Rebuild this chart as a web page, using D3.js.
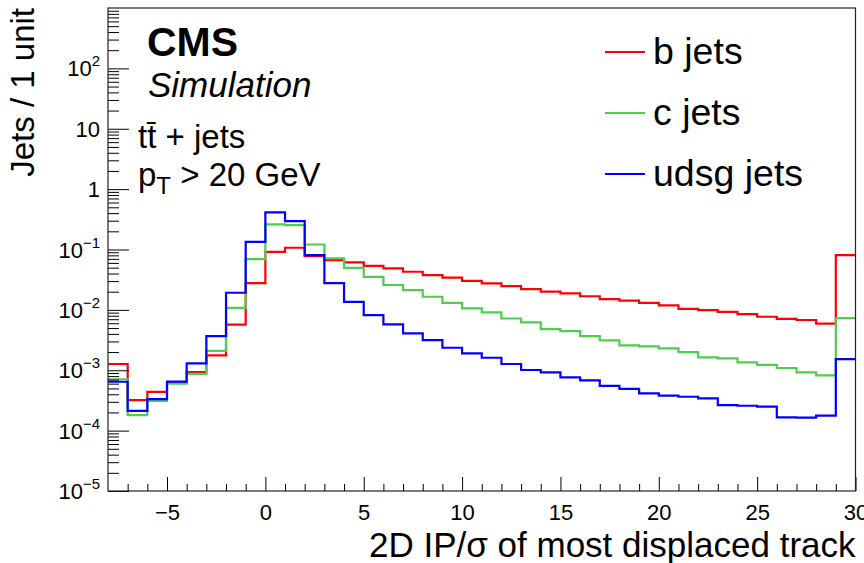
<!DOCTYPE html>
<html>
<head>
<meta charset="utf-8">
<script src="https://cdn.jsdelivr.net/npm/d3@7"></script>
<style>
  body { margin: 0; background: #fff; }
  svg { display: block; }
  text { font-family: "Liberation Sans", Arial, Helvetica, sans-serif; fill: #000; }
</style>
</head>
<body>
<div id="chart"></div>
<script>
let width = 864;
let height = 563;
let margin = ({top: 8, right: 8.5, bottom: 72, left: 108});

// bin contents, one entry per unit bin from -8 to 30
let bJets = [1.27e-3, 3.2e-4, 4.4e-4, 6.2e-4, 9.3e-4, 1.77e-3, 5.7e-3, 0.0278,
  0.0916, 0.107, 0.0778, 0.0667, 0.0611, 0.0537, 0.0486, 0.0428, 0.0377, 0.0343,
  0.0303, 0.0275, 0.0248, 0.0221, 0.0200, 0.0188, 0.0168, 0.0151, 0.0142, 0.0131,
  0.0119, 0.0104, 0.0099, 0.0093, 0.0085, 0.0077, 0.0071, 0.0068, 0.0059, 0.0807];
let cJets = [7.1e-4, 1.81e-4, 3.1e-4, 6.0e-4, 8.7e-4, 2.1e-3, 0.0108, 0.0693,
  0.261, 0.254, 0.121, 0.0713, 0.0498, 0.0353, 0.0258, 0.0213, 0.0165, 0.0131,
  0.0106, 0.0091, 0.0072, 0.0062, 0.0048, 0.00446, 0.00368, 0.00313, 0.00258, 0.00249,
  0.00231, 0.0020, 0.00164, 0.00157, 0.00135, 0.00123, 0.00109, 0.00092, 0.00082, 0.0073];
let udsgJets = [6.45e-4, 2.13e-4, 3.33e-4, 6.5e-4, 1.3e-3, 3.68e-3, 0.0192, 0.134,
  0.411, 0.295, 0.0807, 0.0278, 0.0136, 0.0082, 0.00575, 0.00408, 0.00316, 0.00236,
  0.00191, 0.00161, 0.00127, 0.00101, 0.00092, 0.00076, 0.00068, 0.00055, 0.00049, 0.000415,
  0.000379, 0.000364, 0.000343, 0.000265, 0.000258, 0.000249, 0.000166, 0.000164, 0.000177, 0.00153];

let xRange = [-8, 30];
let yRange = [1e-5, 1e3];
let xMajor = [-5, 0, 5, 10, 15, 20, 25, 30];
let yMajor = [1e-5, 1e-4, 1e-3, 1e-2, 1e-1, 1, 10, 100];
let yLabels = [["10", "\u22125"], ["10", "\u22124"], ["10", "\u22123"], ["10", "\u22122"],
  ["10", "\u22121"], ["1", ""], ["10", ""], ["10", "2"]];

let series = [
  {name: "b jets", values: bJets, color: "#ff0000"},
  {name: "c jets", values: cJets, color: "#4fcd4f"},
  {name: "udsg jets", values: udsgJets, color: "#0000ff"}
];

let svg = d3.select("#chart")
    .append("svg")
    .attr("width", width)
    .attr("height", height);

let xScale = d3.scaleLinear()
    .domain(xRange)
    .range([margin.left, width - margin.right]);

let yScale = d3.scaleLog()
    .domain(yRange)
    .range([height - margin.bottom, margin.top]);

let plotH = height - margin.bottom - margin.top;
let plotW = width - margin.right - margin.left;

// histograms drawn as steps along the bin edges
let edges = d3.range(xRange[0], xRange[1] + 1);
let step = d3.line()
    .x(d => xScale(d[0]))
    .y(d => yScale(d[1]))
    .curve(d3.curveStepAfter);

series.forEach(s => {
    let pts = s.values.map((v, i) => [edges[i], v]);
    pts.push([xRange[1], s.values[s.values.length - 1]]);
    svg.append("path")
        .attr("d", step(pts))
        .attr("fill", "none")
        .attr("stroke", s.color)
        .attr("stroke-width", 2.2);
});

// x axis: minor ticks every unit, major every 5
let xMinor = d3.range(-7, 30).filter(v => v % 5 !== 0);
svg.append("g")
    .attr("transform", "translate(0," + (height - margin.bottom) + ")")
    .call(d3.axisBottom(xScale).tickValues(xMinor).tickSize(-7).tickSizeOuter(0).tickFormat(""))
    .call(g => g.select(".domain").remove());

svg.append("g")
    .attr("class", "x axis")
    .attr("transform", "translate(0," + (height - margin.bottom) + ")")
    .call(d3.axisBottom(xScale).tickValues(xMajor).tickSize(-14).tickSizeOuter(0).tickPadding(13)
        .tickFormat(d => d < 0 ? "\u2212" + (-d) : d))
    .call(g => g.select(".domain").remove())
    .call(g => g.selectAll("text").attr("font-size", 22).attr("font-family", null));

// y axis: log ticks 2..9 in every decade
let yMinor = [];
d3.range(-5, 3).forEach(e => {
    for (let k = 2; k <= 9; k++) yMinor.push(k * Math.pow(10, e));
});
svg.append("g")
    .attr("transform", "translate(" + margin.left + ",0)")
    .call(d3.axisLeft(yScale).tickValues(yMinor).tickSize(-11).tickSizeOuter(0).tickFormat(""))
    .call(g => g.select(".domain").remove());

svg.append("g")
    .attr("class", "y axis")
    .attr("transform", "translate(" + margin.left + ",0)")
    .call(d3.axisLeft(yScale).tickValues(yMajor).tickSize(-21).tickSizeOuter(0).tickFormat(""))
    .call(g => g.select(".domain").remove());

svg.selectAll(".tick line").attr("stroke", "#000");

yMajor.forEach((v, i) => {
    let t = svg.append("text")
        .attr("x", margin.left - 8)
        .attr("y", yScale(v) + 8)
        .attr("text-anchor", "end")
        .attr("font-size", 22);
    t.append("tspan").text(yLabels[i][0]);
    if (yLabels[i][1]) {
        t.append("tspan")
            .attr("font-size", 15)
            .attr("dy", -10)
            .text(yLabels[i][1]);
    }
});

// frame
svg.append("rect")
    .attr("x", margin.left)
    .attr("y", margin.top)
    .attr("width", plotW)
    .attr("height", plotH)
    .attr("fill", "none")
    .attr("stroke", "#222")
    .attr("stroke-width", 1.2);

// axis titles
svg.append("text")
    .attr("x", width - margin.right)
    .attr("y", 557)
    .attr("text-anchor", "end")
    .attr("font-size", 35)
    .text("2D IP/\u03c3 of most displaced track");

svg.append("text")
    .attr("transform", "translate(34," + margin.top + ") rotate(-90)")
    .attr("text-anchor", "end")
    .attr("font-size", 33)
    .text("Jets / 1 unit");

// labels in the top left corner
svg.append("text")
    .attr("x", 147).attr("y", 56)
    .attr("font-size", 41)
    .attr("font-weight", "bold")
    .text("CMS");

svg.append("text")
    .attr("x", 148).attr("y", 97)
    .attr("font-size", 35)
    .attr("font-style", "italic")
    .text("Simulation");

svg.append("text")
    .attr("x", 138).attr("y", 148)
    .attr("font-size", 33)
    .text("tt\u0304 + jets");

let pt = svg.append("text")
    .attr("x", 138).attr("y", 186)
    .attr("font-size", 33);
pt.append("tspan").text("p");
pt.append("tspan").attr("font-size", 24).attr("dy", 8).text("T");
pt.append("tspan").attr("dy", -8).text(" > 20 GeV");

// legend
let legend = svg.append("g");
series.forEach((s, i) => {
    let yl = 52 + i * 61;
    legend.append("line")
        .attr("x1", 605).attr("x2", 645)
        .attr("y1", yl).attr("y2", yl)
        .attr("stroke", s.color)
        .attr("stroke-width", 2);
    legend.append("text")
        .attr("x", 653).attr("y", yl + 12)
        .attr("font-size", 37.5)
        .text(s.name);
});
</script>
</body>
</html>
